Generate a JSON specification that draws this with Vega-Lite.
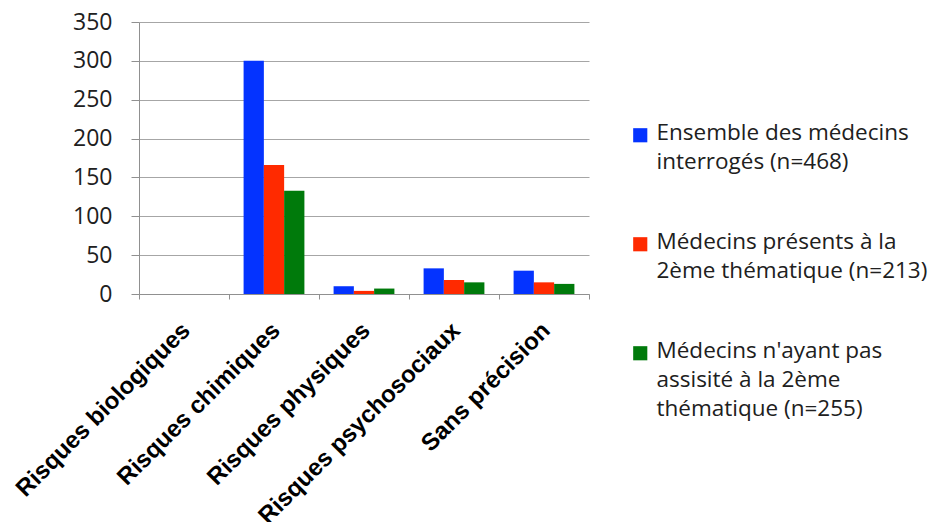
{
  "$schema": "https://vega.github.io/schema/vega-lite/v6.json",
  "autosize": "none",
  "width": 450,
  "height": 272,
  "padding": {"left": 139, "top": 22, "right": 353, "bottom": 228},
  "background": "white",
  "data": {
    "values": [
      {"categorie": "Risques biologiques", "groupe": "Ensemble des médecins\ninterrogés (n=468)", "valeur": 0},
      {"categorie": "Risques biologiques", "groupe": "Médecins présents à la\n2ème thématique (n=213)", "valeur": 0},
      {"categorie": "Risques biologiques", "groupe": "Médecins n'ayant pas\nassisité à la 2ème\nthématique (n=255)", "valeur": 0},
      {"categorie": "Risques chimiques", "groupe": "Ensemble des médecins\ninterrogés (n=468)", "valeur": 300},
      {"categorie": "Risques chimiques", "groupe": "Médecins présents à la\n2ème thématique (n=213)", "valeur": 166},
      {"categorie": "Risques chimiques", "groupe": "Médecins n'ayant pas\nassisité à la 2ème\nthématique (n=255)", "valeur": 133},
      {"categorie": "Risques physiques", "groupe": "Ensemble des médecins\ninterrogés (n=468)", "valeur": 10},
      {"categorie": "Risques physiques", "groupe": "Médecins présents à la\n2ème thématique (n=213)", "valeur": 4},
      {"categorie": "Risques physiques", "groupe": "Médecins n'ayant pas\nassisité à la 2ème\nthématique (n=255)", "valeur": 7},
      {"categorie": "Risques psychosociaux", "groupe": "Ensemble des médecins\ninterrogés (n=468)", "valeur": 33},
      {"categorie": "Risques psychosociaux", "groupe": "Médecins présents à la\n2ème thématique (n=213)", "valeur": 18},
      {"categorie": "Risques psychosociaux", "groupe": "Médecins n'ayant pas\nassisité à la 2ème\nthématique (n=255)", "valeur": 15},
      {"categorie": "Sans précision", "groupe": "Ensemble des médecins\ninterrogés (n=468)", "valeur": 30},
      {"categorie": "Sans précision", "groupe": "Médecins présents à la\n2ème thématique (n=213)", "valeur": 15},
      {"categorie": "Sans précision", "groupe": "Médecins n'ayant pas\nassisité à la 2ème\nthématique (n=255)", "valeur": 13}
    ]
  },
  "mark": {"type": "bar"},
  "encoding": {
    "x": {
      "field": "categorie",
      "type": "nominal",
      "sort": null,
      "scale": {"paddingInner": 0, "paddingOuter": 0},
      "axis": {
        "title": null,
        "labelAngle": -45,
        "labelAlign": "right",
        "labelBaseline": "top",
        "labelFont": "Liberation Sans",
        "labelFontWeight": "bold",
        "labelFontSize": 24,
        "labelColor": "black",
        "labelLimit": 500,
        "labelPadding": 19,
        "labelOffset": -6,
        "domainColor": "#909090",
        "tickColor": "#909090",
        "tickSize": 5,
        "bandPosition": 1,
        "tickExtra": true
      }
    },
    "xOffset": {"field": "groupe", "type": "nominal", "sort": null, "scale": {"paddingInner": 0, "paddingOuter": 0.72}},
    "y": {
      "field": "valeur",
      "type": "quantitative",
      "scale": {"domain": [0, 350]},
      "axis": {
        "title": null,
        "values": [0, 50, 100, 150, 200, 250, 300, 350],
        "labelFont": "Open Sans",
        "labelFontSize": 23,
        "labelColor": "#202020",
        "labelPadding": 19,
        "domainColor": "#909090",
        "tickColor": "#909090",
        "tickSize": 8,
        "gridColor": "#A6A6A6",
        "gridWidth": 1
      }
    },
    "color": {
      "field": "groupe",
      "type": "nominal",
      "sort": null,
      "scale": {"range": ["#0433FF", "#FF2A00", "#007A0B"]},
      "legend": {
        "title": null,
        "orient": "none",
        "legendX": 490,
        "legendY": 102,
        "symbolType": "square",
        "symbolSize": 200,
        "symbolStrokeWidth": 0,
        "labelFont": "Open Sans",
        "labelFontSize": 22.5,
        "labelColor": "#202020",
        "labelLimit": 400,
        "labelExpr": "split(datum.label, '\\n')",
        "labelBaseline": "top",
        "rowPadding": 57,
        "labelOffset": 5,
        "encode": {"labels": {"update": {"dy": {"value": -13}}}}
      }
    }
  },
  "config": {"view": {"stroke": null}, "style": {"guide-label": {"lineHeight": 29}}}
}
